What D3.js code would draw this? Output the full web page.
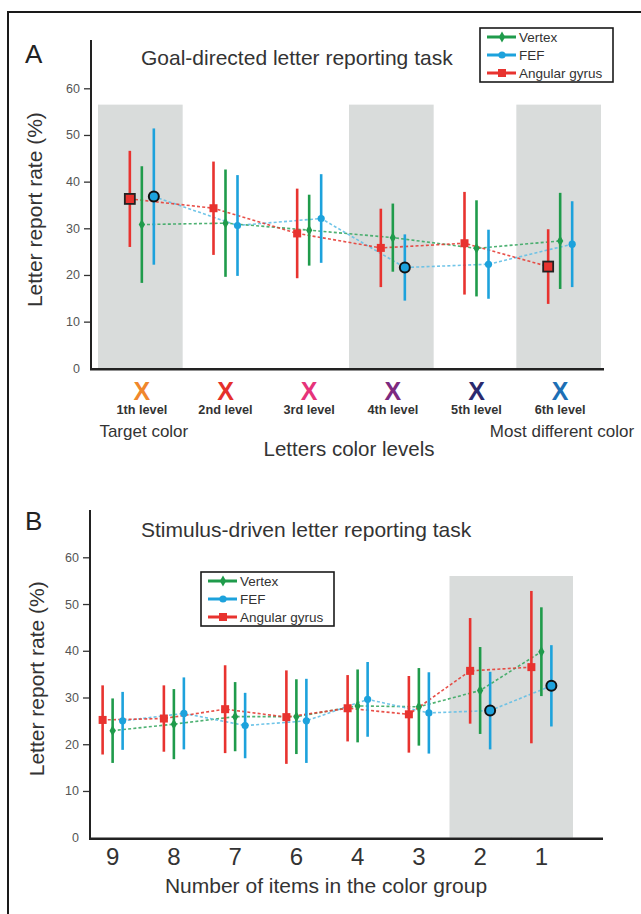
<!DOCTYPE html>
<html>
<head>
<meta charset="utf-8">
<script src="https://cdn.jsdelivr.net/npm/d3@7"></script>
<style>
body { margin: 0; background: #fff; }
svg { display: block; font-family: "Liberation Sans", Arial, sans-serif; }
</style>
</head>
<body>
<svg id="fig" width="641" height="914"></svg>
<script>
// ---- panel A data (goal-directed task)
var levelsA = ["1th level", "2nd level", "3rd level", "4th level", "5th level", "6th level"];
var vertexA = [30.8, 31.1, 29.6, 28.0, 25.7, 27.3];
var vertexErrA = [12.5, 11.5, 7.6, 7.3, 10.3, 10.3];
var fefA = [36.8, 30.6, 32.1, 21.6, 22.3, 26.6];
var fefErrA = [14.6, 10.8, 9.5, 7.1, 7.4, 9.2];
var angularA = [36.3, 34.3, 28.9, 25.8, 26.8, 21.8];
var angularErrA = [10.3, 10.0, 9.6, 8.4, 11.0, 8.0];
var fefSigA = [0, 3];          // outlined markers
var angularSigA = [0, 5];
var shadedA = [0, 3, 5];

// ---- panel B data (stimulus-driven task)
var groupsB = ["9", "8", "7", "6", "4", "3", "2", "1"];
var vertexB = [22.9, 24.3, 25.9, 25.9, 28.2, 28.0, 31.5, 39.8];
var vertexErrB = [6.9, 7.5, 7.4, 8.0, 7.8, 8.3, 9.3, 9.5];
var fefB = [25.0, 26.6, 24.0, 25.0, 29.6, 26.7, 27.2, 32.5];
var fefErrB = [6.2, 7.7, 7.0, 9.0, 8.0, 8.7, 8.3, 8.7];
var angularB = [25.2, 25.5, 27.5, 25.8, 27.7, 26.4, 35.7, 36.5];
var angularErrB = [7.4, 7.1, 9.4, 10.0, 7.1, 8.2, 11.3, 16.3];
var fefSigB = [6, 7];
var angularSigB = [];
var shadedB = [6, 7];

var yTicks = [0, 10, 20, 30, 40, 50, 60];
var seriesNames = ["Vertex", "FEF", "Angular gyrus"];

// styles
var xLetterColors = ["#f0872c", "#e5302b", "#e6337a", "#7d2a80", "#2b2a6e", "#1d6fb5"];
var col = {
  vertex: "#1f9b4b", fef: "#1da2dc", angular: "#e8332f",
  vertexLine: "#3aa863", fefLine: "#62bfe6", angularLine: "#e53d35"
};

var svg = d3.select("#fig");

// outer frame (left + top)
svg.append("path")
  .attr("d", "M8,914 L8,12 L641,12")
  .attr("fill", "none")
  .attr("stroke", "#1a1a1a")
  .attr("stroke-width", 2);

function marker(g, type, x, y, sig) {
  if (type == "angular") {
    var s = sig ? 10 : 8;
    g.append("rect")
      .attr("x", x - s / 2).attr("y", y - s / 2)
      .attr("width", s).attr("height", s)
      .attr("fill", col.angular)
      .attr("stroke", sig ? "#222" : "none")
      .attr("stroke-width", 1.8);
  } else if (type == "fef") {
    g.append("circle")
      .attr("cx", x).attr("cy", y).attr("r", sig ? 5 : 3.6)
      .attr("fill", col.fef)
      .attr("stroke", sig ? "#111" : "none")
      .attr("stroke-width", 2);
  } else {
    g.append("path")
      .attr("d", d3.symbol().type(d3.symbolDiamond).size(34)())
      .attr("transform", "translate(" + x + "," + y + ")")
      .attr("fill", col.vertex);
  }
}

function drawPanel(p) {
  var g = svg.append("g");

  var x = d3.scaleBand().domain(p.cats).range(p.xRange);
  var y = d3.scaleLinear().domain([0, 60]).range(p.yRange);
  var cx = function(i) { return x(p.cats[i]) + x.bandwidth() / 2; };

  // grey shading
  g.selectAll(".shade")
    .data(p.shaded)
    .enter()
    .append("rect")
    .attr("x", function(d) { return x(p.cats[d]) + p.shadeShift; })
    .attr("y", y(p.shadeTop))
    .attr("width", x.bandwidth() + 1)
    .attr("height", y(0) - y(p.shadeTop))
    .attr("fill", "#d9dcdb");

  var series = [
    { key: "vertex", mean: p.vertex, err: p.vertexErr, off: 0, sig: [] },
    { key: "fef", mean: p.fef, err: p.fefErr, off: 1, sig: p.fefSig },
    { key: "angular", mean: p.angular, err: p.angularErr, off: -1, sig: p.angularSig }
  ];

  // dotted connecting lines
  series.forEach(function(s) {
    var line = d3.line()
      .x(function(d, i) { return cx(i) + s.off * p.offset; })
      .y(function(d) { return y(d); });
    g.append("path")
      .datum(s.mean)
      .attr("d", line)
      .attr("fill", "none")
      .attr("stroke", col[s.key + "Line"])
      .attr("stroke-width", 1.6)
      .attr("stroke-dasharray", "3,2.2")
      .attr("opacity", 0.9);
  });

  // error bars
  series.forEach(function(s) {
    g.selectAll(".err-" + s.key)
      .data(s.mean)
      .enter()
      .append("line")
      .attr("x1", function(d, i) { return cx(i) + s.off * p.offset; })
      .attr("x2", function(d, i) { return cx(i) + s.off * p.offset; })
      .attr("y1", function(d, i) { return y(d + s.err[i]); })
      .attr("y2", function(d, i) { return y(d - s.err[i]); })
      .attr("stroke", col[s.key])
      .attr("stroke-width", 2.6);
  });

  // means
  series.forEach(function(s) {
    s.mean.forEach(function(d, i) {
      marker(g, s.key, cx(i) + s.off * p.offset, y(d), s.sig.indexOf(i) >= 0);
    });
  });

  // y axis
  var yAxis = d3.axisLeft(y).tickValues(yTicks).tickSize(7).tickPadding(4);
  var ya = g.append("g")
    .attr("transform", "translate(" + p.yAxisX + ",0)")
    .call(yAxis);
  ya.select(".domain").remove();
  ya.selectAll(".tick line").attr("stroke", "#333").attr("stroke-width", 1.3)
    .filter(function(d) { return d == 0; }).remove();
  ya.selectAll(".tick text")
    .attr("font-size", 12.5)
    .attr("fill", "#555")
    .attr("font-family", "Liberation Sans, Arial, sans-serif");

  g.append("line")
    .attr("x1", p.yAxisX).attr("x2", p.yAxisX)
    .attr("y1", p.yAxisTop).attr("y2", y(0) + 1)
    .attr("stroke", "#222").attr("stroke-width", 2);
  g.append("line")
    .attr("x1", p.yAxisX - 1).attr("x2", p.xAxisEnd)
    .attr("y1", y(0) + 1).attr("y2", y(0) + 1)
    .attr("stroke", "#222").attr("stroke-width", 2.6);

  // y title
  g.append("text")
    .attr("transform", "translate(" + p.yTitleX + "," + y(34) + ") rotate(-90)")
    .attr("text-anchor", "middle")
    .attr("font-size", 21)
    .attr("fill", "#333")
    .text("Letter report rate (%)");

  // panel letter and title
  g.append("text")
    .attr("x", 25).attr("y", p.letterY)
    .attr("font-size", 26)
    .attr("fill", "#222")
    .text(p.letter);
  g.append("text")
    .attr("x", p.titleX).attr("y", p.titleY)
    .attr("font-size", 21)
    .attr("fill", "#333")
    .text(p.title);

  // legend
  var lg = g.append("g").attr("transform", "translate(" + p.legend[0] + "," + p.legend[1] + ")");
  lg.append("rect")
    .attr("x", 0).attr("y", 0).attr("width", 133).attr("height", 54)
    .attr("fill", "#fff").attr("stroke", "#1a1a1a").attr("stroke-width", 1.6);
  ["vertex", "fef", "angular"].forEach(function(k, i) {
    var ly = 9 + i * 18;
    lg.append("line")
      .attr("x1", 7).attr("x2", 36).attr("y1", ly).attr("y2", ly)
      .attr("stroke", col[k]).attr("stroke-width", 3);
    marker(lg, k, 22, ly, false);
    lg.append("text")
      .attr("x", 39).attr("y", ly + 5)
      .attr("font-size", 13.5)
      .attr("fill", "#333")
      .text(seriesNames[i]);
  });

  return { g: g, x: x, y: y, cx: cx };
}

// ---------- panel A
var pa = drawPanel({
  letter: "A", letterY: 63,
  title: "Goal-directed letter reporting task", titleX: 141, titleY: 65,
  cats: levelsA, xRange: [100, 602], yRange: [368.3, 88.3],
  yAxisX: 91, yAxisTop: 40, xAxisEnd: 604, yTitleX: 42,
  offset: 12, shaded: shadedA, shadeTop: 56.5, shadeShift: -2,
  vertex: vertexA, vertexErr: vertexErrA,
  fef: fefA, fefErr: fefErrA, fefSig: fefSigA,
  angular: angularA, angularErr: angularErrA, angularSig: angularSigA,
  legend: [480, 28]
});

pa.g.selectAll(".xletter")
  .data(levelsA)
  .enter()
  .append("text")
  .attr("x", function(d, i) { return pa.cx(i); })
  .attr("y", 400)
  .attr("text-anchor", "middle")
  .attr("font-size", 25)
  .attr("font-weight", "bold")
  .attr("fill", function(d, i) { return xLetterColors[i]; })
  .text("X");

pa.g.selectAll(".xlevel")
  .data(levelsA)
  .enter()
  .append("text")
  .attr("x", function(d, i) { return pa.cx(i); })
  .attr("y", 414)
  .attr("text-anchor", "middle")
  .attr("font-size", 12.7)
  .attr("font-weight", "bold")
  .attr("fill", "#333")
  .text(function(d) { return d; });

pa.g.append("text")
  .attr("x", pa.cx(0) + 2).attr("y", 437)
  .attr("text-anchor", "middle")
  .attr("font-size", 17)
  .attr("fill", "#333")
  .text("Target color");
pa.g.append("text")
  .attr("x", 562).attr("y", 437)
  .attr("text-anchor", "middle")
  .attr("font-size", 17)
  .attr("fill", "#333")
  .text("Most different color");
pa.g.append("text")
  .attr("x", 349).attr("y", 456)
  .attr("text-anchor", "middle")
  .attr("font-size", 20.5)
  .attr("fill", "#333")
  .text("Letters color levels");

// ---------- panel B
var pb = drawPanel({
  letter: "B", letterY: 530,
  title: "Stimulus-driven letter reporting task", titleX: 141, titleY: 537,
  cats: groupsB, xRange: [82, 572], yRange: [837.7, 557.3],
  yAxisX: 90, yAxisTop: 510, xAxisEnd: 603, yTitleX: 44,
  offset: 10, shaded: shadedB, shadeTop: 56, shadeShift: 0,
  vertex: vertexB, vertexErr: vertexErrB,
  fef: fefB, fefErr: fefErrB, fefSig: fefSigB,
  angular: angularB, angularErr: angularErrB, angularSig: angularSigB,
  legend: [201, 572]
});

pb.g.selectAll(".xnum")
  .data(groupsB)
  .enter()
  .append("text")
  .attr("x", function(d, i) { return pb.cx(i); })
  .attr("y", 865)
  .attr("text-anchor", "middle")
  .attr("font-size", 24)
  .attr("fill", "#333")
  .text(function(d) { return d; });

pb.g.append("text")
  .attr("x", 326).attr("y", 893)
  .attr("text-anchor", "middle")
  .attr("font-size", 21)
  .attr("fill", "#333")
  .text("Number of items in the color group");
</script>
</body>
</html>
